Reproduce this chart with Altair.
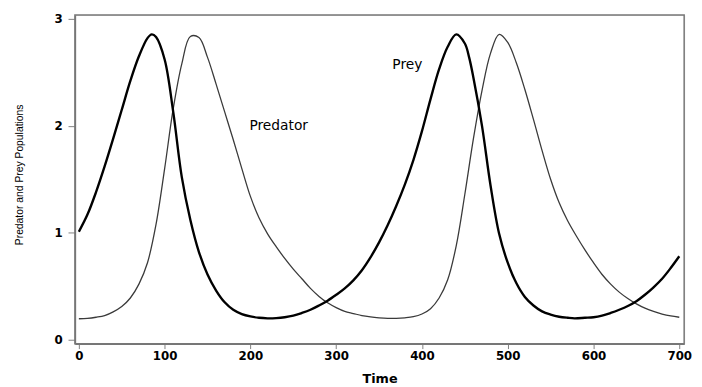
import altair as alt
import pandas as pd

prey_time = [0, 10, 20, 30, 40, 50, 60, 70, 80, 85, 90, 100, 110, 120, 130, 140, 150, 160, 170, 180,
             190, 200, 210, 220, 230, 240, 250, 260, 270, 280, 290, 300, 310, 320, 330, 340, 350, 360,
             370, 380, 390, 400, 410, 420, 430, 440, 450, 455, 460, 470, 480, 490, 500, 510, 520,
             530, 540, 550, 560, 570, 578, 590, 600, 610, 620, 630, 640, 650, 660, 670, 680, 690, 700]
prey_value = [1.01, 1.17, 1.38, 1.62, 1.88, 2.15, 2.42, 2.65, 2.82, 2.855, 2.83, 2.62, 2.13, 1.52, 1.12,
              0.82, 0.61, 0.46, 0.35, 0.28, 0.24, 0.218, 0.205, 0.20, 0.202, 0.21, 0.225, 0.25, 0.28,
              0.32, 0.365, 0.42, 0.48, 0.555, 0.65, 0.77, 0.91, 1.07, 1.25, 1.45, 1.68, 1.95, 2.25, 2.53,
              2.74, 2.855, 2.77, 2.64, 2.45, 2.00, 1.44, 0.99, 0.72, 0.53, 0.40, 0.32, 0.265, 0.235,
              0.215, 0.205, 0.20, 0.205, 0.21, 0.225, 0.25, 0.28, 0.315, 0.36, 0.42, 0.49, 0.57, 0.67, 0.78]

pred_time = [0, 10, 20, 30, 40, 50, 60, 70, 80, 90, 100, 110, 120, 130, 140, 150, 160, 170, 180,
             190, 200, 210, 220, 230, 240, 250, 260, 270, 280, 290, 300, 310, 320, 330, 340, 350, 360,
             370, 380, 390, 400, 410, 420, 430, 440, 450, 460, 470, 480, 490, 500, 510, 520, 530,
             540, 550, 560, 570, 580, 590, 600, 610, 620, 630, 640, 650, 660, 670, 680, 690, 700]
pred_value = [0.196, 0.20, 0.21, 0.225, 0.26, 0.31, 0.39, 0.52, 0.72, 1.08, 1.60, 2.16, 2.58, 2.835,
              2.825, 2.64, 2.39, 2.13, 1.87, 1.60, 1.34, 1.14, 0.99, 0.87, 0.76, 0.66, 0.57, 0.48, 0.405,
              0.345, 0.30, 0.265, 0.245, 0.225, 0.213, 0.205, 0.20, 0.20, 0.205, 0.215, 0.24, 0.29, 0.39,
              0.56, 0.88, 1.36, 1.88, 2.33, 2.68, 2.855, 2.78, 2.59, 2.34, 2.06, 1.77, 1.50, 1.28,
              1.11, 0.97, 0.84, 0.72, 0.61, 0.52, 0.445, 0.385, 0.335, 0.295, 0.265, 0.24, 0.222, 0.21]

x_ticks = [0, 100, 200, 300, 400, 500, 600, 700]
y_ticks = [0, 1, 2, 3]

label_text = ["Prey", "Predator"]
label_time = [383, 233]
label_value = [2.57, 2.0]

W, H = 619, 334
BOX = "#777777"

prey_df = pd.DataFrame({"Time": prey_time, "Population": prey_value})
pred_df = pd.DataFrame({"Time": pred_time, "Population": pred_value})
label_df = pd.DataFrame({"Time": label_time, "Population": label_value, "text": label_text})

x_enc = alt.X(
    "Time:Q",
    scale=alt.Scale(domain=[-4.6, 705.7], nice=False, zero=False),
    axis=alt.Axis(
        values=x_ticks, title="Time", format="d",
        labelFont="DejaVu Sans", labelFontWeight="bold", labelFontSize=12, labelColor="black",
        labelPadding=2, tickSize=5, tickColor="#808080", domain=True, domainColor=BOX, domainWidth=1.5,
        grid=False,
        titleFont="DejaVu Sans", titleFontWeight="bold", titleFontSize=13, titleColor="black",
        titleY=39, titleBaseline="alphabetic",
    ),
)
y_enc = alt.Y(
    "Population:Q",
    scale=alt.Scale(domain=[-0.037, 3.037], nice=False, zero=False),
    axis=alt.Axis(
        values=y_ticks, title="Predator and Prey Populations", format="d",
        labelFont="DejaVu Sans", labelFontWeight="bold", labelFontSize=12, labelColor="black",
        labelAngle=0, labelPadding=6, tickSize=7, tickColor="#808080",
        domain=True, domainColor=BOX, domainWidth=1.5, grid=False,
        titleFont="Liberation Sans", titleFontWeight="normal", titleFontSize=10.5, titleColor="black",
        titleAngle=270, titleX=-53, titleY=162, titleAlign="center", titleBaseline="alphabetic",
    ),
)

frame = alt.Chart(pd.DataFrame({"k": [0]})).mark_rect(
    filled=False, stroke=BOX, strokeWidth=1.5, fillOpacity=0
).encode(x=alt.value(0), x2=alt.value(W), y=alt.value(0), y2=alt.value(H))

prey_line = alt.Chart(prey_df).mark_line(color="black", strokeWidth=2.4, interpolate="catmull-rom").encode(
    x=x_enc, y=y_enc
)
pred_line = alt.Chart(pred_df).mark_line(color="#3a3a3a", strokeWidth=1.3, interpolate="catmull-rom").encode(
    x=x_enc, y=y_enc
)
labels = alt.Chart(label_df).mark_text(
    font="DejaVu Sans", fontSize=14, color="black", align="center", baseline="middle"
).encode(x="Time:Q", y="Population:Q", text="text:N")

chart = alt.layer(frame, pred_line, prey_line, labels).properties(
    width=W, height=H,
    padding={"left": 68, "top": 4, "right": 10, "bottom": 42},
    autosize=alt.AutoSizeParams(type="none"),
).configure_view(stroke=BOX, strokeWidth=1.5).configure(background="white")

chart.save("out.html", embed_options={"renderer": "svg", "actions": False})
